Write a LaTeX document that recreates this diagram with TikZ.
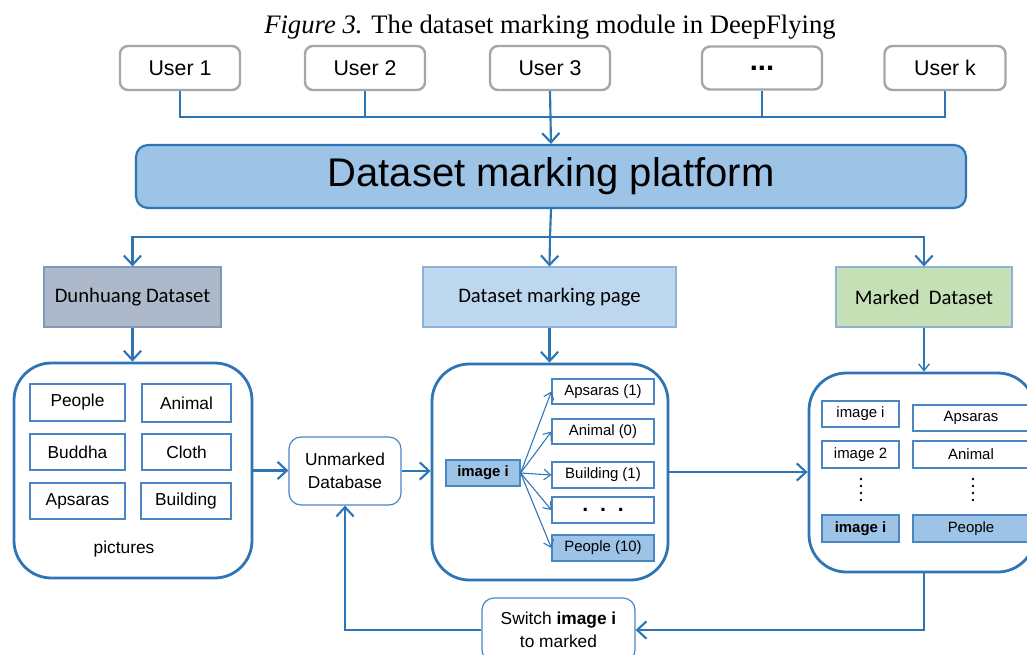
\documentclass[tikz,border=0pt]{standalone}
\usepackage{fontspec}
\setmainfont{Liberation Sans}
\newfontfamily\titlefont{Liberation Serif}
\newfontfamily\calfont{Carlito}
\usetikzlibrary{arrows.meta}
\definecolor{lineblue}{RGB}{46,117,182}
\definecolor{platfill}{RGB}{157,195,230}
\definecolor{dunfill}{RGB}{173,185,202}
\definecolor{dunedge}{RGB}{128,152,186}
\definecolor{pagefill}{RGB}{189,215,238}
\definecolor{markfill}{RGB}{197,224,180}
\definecolor{lightedge}{RGB}{140,178,218}
\definecolor{itemedge}{RGB}{74,134,197}
\definecolor{useredge}{RGB}{166,166,166}
\tikzset{
  sz/.style 2 args={minimum width=#1*0.75pt, minimum height=#2*0.75pt, inner sep=0pt},
  userbox/.style={draw=useredge, line width=1.8pt, rounded corners=6pt, fill=white, font=\fontsize{16}{18}\selectfont},
  platbox/.style={draw=lineblue, line width=1.6pt, rounded corners=9pt, fill=platfill, font=\fontsize{30}{34}\selectfont},
  headbox/.style={draw=lightedge, line width=0.9pt, font=\calfont\fontsize{15.5}{18}\selectfont},
  container/.style={draw=lineblue, line width=2.1pt, rounded corners=28pt, fill=white},
  item/.style={draw=itemedge, line width=0.9pt, fill=white, font=\fontsize{13}{15}\selectfont},
  smallitem/.style={draw=itemedge, line width=0.9pt, fill=white, font=\fontsize{11.2}{13}\selectfont},
  marked/.style={fill=platfill},
  roundbox/.style={draw=itemedge, line width=0.9pt, rounded corners=9pt, fill=white, align=center, font=\fontsize{13}{17}\selectfont},
  conn/.style={draw=lineblue, line width=1.6pt},
  arr/.style={conn, -{Straight Barb[length=7pt,width=13pt]}},
  thinarr/.style={draw=lineblue, line width=0.8pt, -{Straight Barb[length=5pt,width=8pt]}},
  dot/.style={fill=black, draw=none, circle, inner sep=0pt, minimum size=2.2pt}
}
\begin{document}
\begin{tikzpicture}[x=0.75pt, y=-0.75pt]
  \useasboundingbox (0,0) rectangle (1027,654);
  \clip (0,0) rectangle (1027,654);

  % caption
  \node[font=\titlefont\fontsize{20}{24}\selectfont] (title) at (550,27)
    {\textit{Figure 3.} The dataset marking module in DeepFlying};

  % users
  \node[userbox, sz={120}{44}] (u1) at (180,68) {User 1};
  \node[userbox, sz={120}{44}] (u2) at (365,68) {User 2};
  \node[userbox, sz={120}{44}] (u3) at (550,68) {User 3};
  \node[userbox, sz={120}{43}, font=\bfseries\fontsize{22}{24}\selectfont] (u4) at (762,68) {...};
  \node[userbox, sz={121}{44}] (uk) at (945,68) {User k};
  \coordinate (j0) at (550,117);

  % platform
  \node[platbox, sz={830}{63}] (plat) at (551,176.5) {Dataset marking platform};
  \coordinate (j1) at (550,237);

  % second row
  \node[headbox, fill=dunfill, draw=dunedge, sz={177}{60}] (dun) at (132.5,297) {Dunhuang Dataset};
  \node[headbox, fill=pagefill, sz={253}{60}] (page) at (549.5,297) {Dataset marking page};
  \node[headbox, fill=markfill, sz={176}{60}] (mark) at (924,297) {Marked\ \ Dataset};

  % containers
  \node[container, sz={238}{215}] (L) at (133,470.5) {};
  \node[container, sz={236}{216}] (M) at (550,472) {};
  \node[container, sz={226}{199}] (R) at (922,472.5) {};

  % left container: picture categories
  \node[item, sz={95}{37}] (lp) at (77.5,402.5) {People};
  \node[item, sz={89}{38}] (la) at (186.5,403) {Animal};
  \node[item, sz={95}{36}] (lb) at (77.5,452) {Buddha};
  \node[item, sz={89}{36}] (lc) at (186.5,452) {Cloth};
  \node[item, sz={95}{36}] (ls) at (77.5,501) {Apsaras};
  \node[item, sz={90}{36}] (lg) at (186,501) {Building};
  \node[font=\fontsize{13}{15}\selectfont] (pic) at (124,549) {pictures};

  % unmarked database and switch box
  \node[roundbox, sz={112}{68}] (U) at (345,471) {Unmarked\\Database};
  \node[roundbox, sz={153}{64}] (sw) at (558.5,630) {Switch \textbf{image i}\\to marked};

  % middle container: marking page
  \node[smallitem, marked, sz={74}{26}, font=\bfseries\fontsize{11.2}{13}\selectfont] (mi) at (483,473) {image i};
  \node[smallitem, sz={102}{25}] (m1) at (603,391.5) {Apsaras (1)};
  \node[smallitem, sz={102}{25}] (m2) at (603,431.5) {Animal (0)};
  \node[smallitem, sz={102}{26}] (m3) at (603,475) {Building (1)};
  \node[smallitem, sz={102}{26}, font=\bfseries\fontsize{16}{16}\selectfont] (m4) at (603,510) {.\ \ .\ \ .};
  \node[smallitem, marked, sz={102}{26}] (m5) at (603,548) {People (10)};
  \foreach \t in {m1,m2,m3,m4,m5}
    \draw[thinarr] (mi.east) -- (\t.west);

  % right container: marked dataset
  \node[smallitem, sz={77}{26}] (r1) at (860.5,414) {image i};
  \node[smallitem, sz={77}{27}] (r2) at (860.5,454.5) {image 2};
  \node[smallitem, marked, sz={77}{27}, font=\bfseries\fontsize{11.2}{13}\selectfont] (r3) at (860.5,528.5) {image i};
  \node[smallitem, sz={116}{26}] (s1) at (971,418) {Apsaras};
  \node[smallitem, sz={116}{27}] (s2) at (971,454.5) {Animal};
  \node[smallitem, marked, sz={116}{27}] (s3) at (971,528.5) {People};
  \foreach \yy in {479,486,493,500} {
    \node[dot] at (861,\yy) {};
    \node[dot] at (973,\yy) {};
  }

  % connectors: users to platform
  \draw[conn] (u1.south) |- (uk.south |- j0) -- (uk.south);
  \draw[conn] (u2.south) -- (u2.south |- j0);
  \draw[conn] (u4.south) -- (u4.south |- j0);
  \draw[arr] (u3.south) -- (plat.north);

  % platform to second row
  \draw[conn] (plat.south) -- (j1);
  \draw[arr] (j1) -| (dun.north);
  \draw[arr] (j1) -| (mark.north);
  \draw[arr] (j1) -- (page.north);

  % second row to containers
  \draw[arr] (dun.south) -- (dun.south |- L.north);
  \draw[arr] (page.south) -- (page.south |- M.north);
  \draw[thinarr, line width=1pt] (mark.south) -- (mark.south |- R.north);

  % flow between containers
  \draw[arr] (L.east) -- (L.east -| U.west);
  \draw[arr] (U.east) -- (U.east -| M.west);
  \draw[arr] (M.east) -- (M.east -| R.west);
  \draw[arr] (R.south -| mark.south) |- (sw.east);
  \draw[arr] (sw.west) -| (U.south);
\end{tikzpicture}
\end{document}
